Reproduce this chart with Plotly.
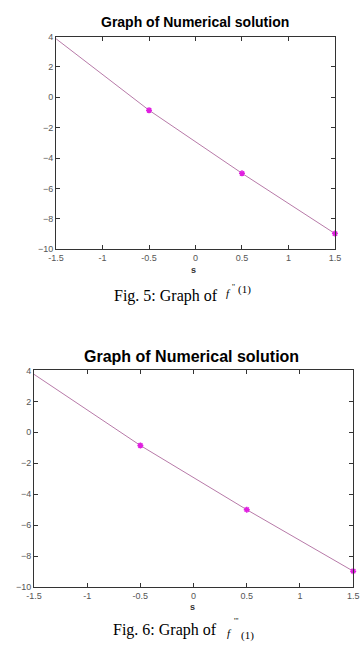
import plotly.graph_objects as go

# Data
s_line = [-1.5, -0.5, 0.5, 1.5]
f2_line = [3.85, -0.85, -5.0, -8.97]
f3_line = [3.75, -0.85, -5.0, -8.97]
s_mark = [-0.5, 0.5, 1.5]
f2_mark = [-0.85, -5.0, -8.97]
f3_mark = [-0.85, -5.0, -8.97]
x_ticks = [-1.5, -1, -0.5, 0, 0.5, 1, 1.5]
x_tick_text = ["-1.5", "-1", "-0.5", "0", "0.5", "1", "1.5"]
y_ticks = [-10, -8, -6, -4, -2, 0, 2, 4]

W, H = 364, 664
line_color = "#b77aa8"
mark_color = "#e020e0"

fig = go.Figure()
for i, (yl, ym) in enumerate([(f2_line, f2_mark), (f3_line, f3_mark)]):
    xa = "x" if i == 0 else "x2"
    ya = "y" if i == 0 else "y2"
    fig.add_trace(go.Scatter(x=s_line, y=yl, mode="lines", xaxis=xa, yaxis=ya,
                             line=dict(color=line_color, width=1), showlegend=False))
    fig.add_trace(go.Scatter(x=s_mark, y=ym, mode="markers", xaxis=xa, yaxis=ya,
                             marker=dict(symbol="asterisk-open", size=5, color=mark_color,
                                         line=dict(color=mark_color, width=1.5)),
                             showlegend=False, cliponaxis=False))

def px(x):
    return x / W

def py(y):
    return 1 - y / H

axis_common = dict(showgrid=False, zeroline=False, showline=True, linecolor="#333",
                   linewidth=1, mirror="ticks", ticks="inside", ticklen=4,
                   tickcolor="#333", tickfont=dict(family="Liberation Sans", size=9, color="#555"))

fig.update_layout(
    width=W, height=H, margin=dict(l=0, r=0, t=0, b=0),
    paper_bgcolor="white", plot_bgcolor="white",
    xaxis=dict(domain=[px(50), px(340)], range=[-1.5, 1.5], anchor="y",
               tickvals=x_ticks, ticktext=x_tick_text, **axis_common),
    yaxis=dict(domain=[py(248), py(32)], range=[-10, 4], anchor="x",
               tickvals=y_ticks, **axis_common),
    xaxis2=dict(domain=[px(27), px(359)], range=[-1.5, 1.5], anchor="y2",
                tickvals=x_ticks, ticktext=x_tick_text, **axis_common),
    yaxis2=dict(domain=[py(591), py(371)], range=[-10, 4], anchor="x2",
                tickvals=y_ticks, **axis_common),
)

ann = []
def text(x, y, t, size, family="Liberation Sans", color="black", xanchor="center"):
    ann.append(dict(x=px(x), y=py(y), xref="paper", yref="paper", text=t, showarrow=False,
                    font=dict(family=family, size=size, color=color),
                    xanchor=xanchor, yanchor="middle"))

text(194, 17, "<b>Graph of Numerical solution</b>", 14)
text(193, 269, "<b>s</b>", 9, color="#333")
text(108, 295, "Fig. 5: Graph of", 16, family="Liberation Serif", xanchor="left")
text(225, 292, "<i>f</i>", 11, family="Liberation Serif", xanchor="left")
text(231, 287, "''", 8, family="Liberation Serif", xanchor="left")
text(237, 289, "(1)", 11, family="Liberation Serif", xanchor="left")

text(191, 357, "<b>Graph of Numerical solution</b>", 16)
text(192, 611, "<b>s</b>", 9, color="#333")
text(107, 635, "Fig. 6: Graph of", 16, family="Liberation Serif", xanchor="left")
text(226, 638, "<i>f</i>", 11, family="Liberation Serif", xanchor="left")
text(233, 626, "'''", 8, family="Liberation Serif", xanchor="left")
text(240, 640, "(1)", 11, family="Liberation Serif", xanchor="left")

fig.update_layout(annotations=ann)
fig.write_html("out.html")
